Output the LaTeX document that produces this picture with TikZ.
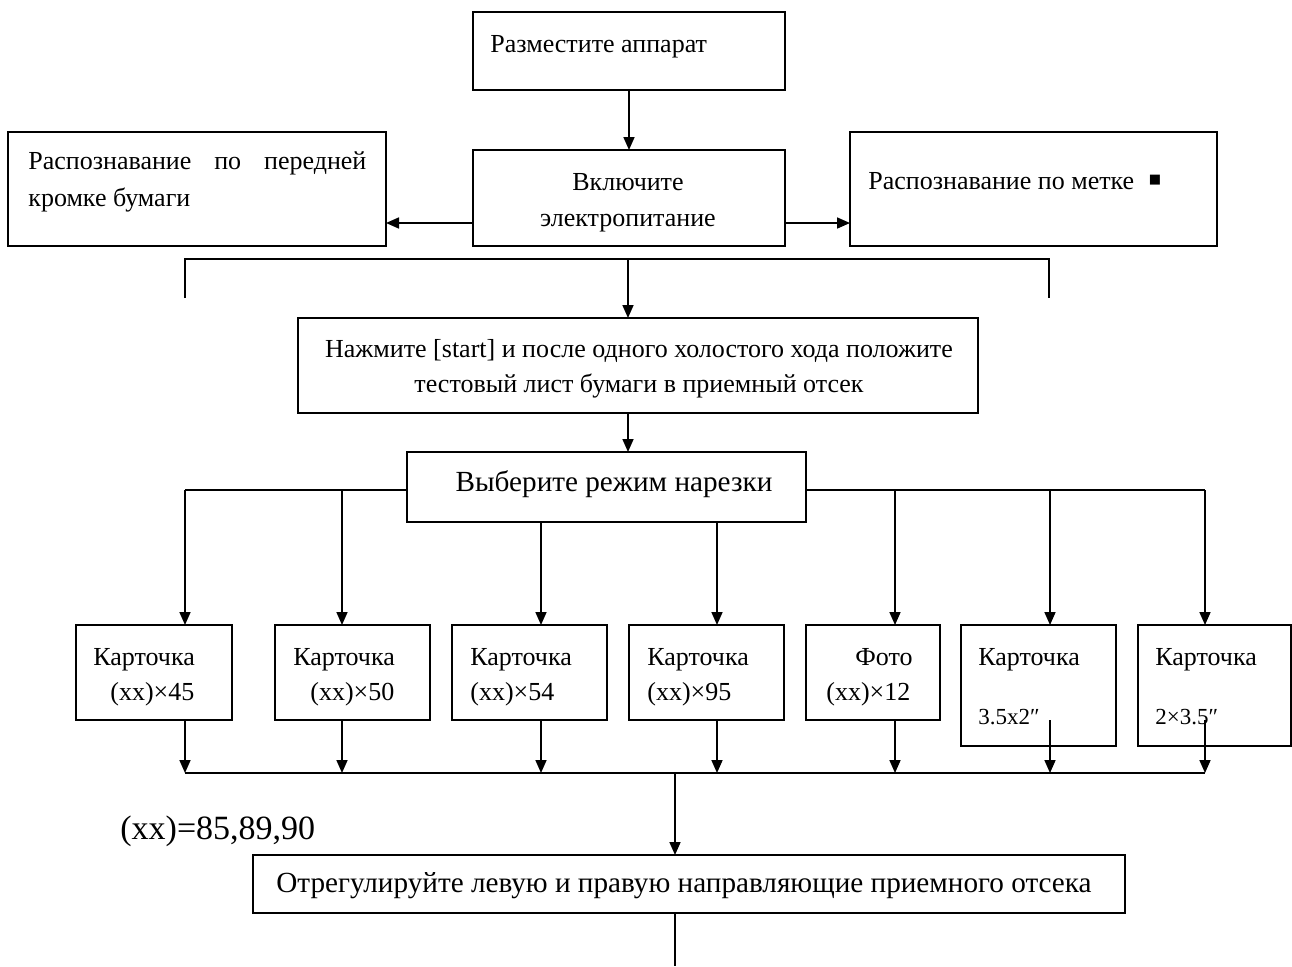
\documentclass[tikz,border=0pt]{standalone}
\usepackage{fontspec}
\setmainfont{Liberation Serif}
\newfontfamily\symf{DejaVu Sans}
\usetikzlibrary{arrows.meta,fit}
\newcommand{\mkbox}[5]{%
  \coordinate (#1-nw) at (#2,#3);
  \coordinate (#1-se) at (#4,#5);
  \node[box, fit=(#1-nw)(#1-se)] (#1) {};}
\begin{document}
\begin{tikzpicture}[x=0.5pt,y=-0.5pt,
  box/.style={draw, line width=1pt, inner sep=0pt, outer sep=0pt},
  arr/.style={-{Triangle[length=6.5pt,width=5.5pt]}, line width=0.85pt},
  ln/.style={line width=0.85pt},
  txt/.style={inner sep=0pt, font=\fontsize{13}{15}\selectfont, anchor=base west},
  ctxt/.style={txt, anchor=base},
  btxt/.style={ctxt, font=\fontsize{14.6}{16}\selectfont},
  stxt/.style={txt, font=\fontsize{11.5}{13}\selectfont}]
\useasboundingbox (0,0) rectangle (1292,966);

% boxes
\mkbox{b1}{473}{12}{785}{90}
\mkbox{b2}{473}{150}{785}{246}
\mkbox{bl}{8}{132}{386}{246}
\mkbox{br}{850}{132}{1217}{246}
\mkbox{b3}{298}{318}{978}{413}
\mkbox{b4}{407}{452}{806}{522}
\mkbox{c1}{76}{625}{232}{720}
\mkbox{c2}{275}{625}{430}{720}
\mkbox{c3}{452}{625}{607}{720}
\mkbox{c4}{629}{625}{784}{720}
\mkbox{c5}{806}{625}{940}{720}
\mkbox{c6}{961}{625}{1116}{746}
\mkbox{c7}{1138}{625}{1291}{746}
\mkbox{b8}{253}{855}{1125}{913}

% texts
\node[txt] (t1) at (490,52) {Разместите аппарат};
\node[ctxt] (t2a) at (628,190) {Включите};
\node[ctxt] (t2b) at (628,226) {электропитание};
\node[txt] (tla) at (28,169) {\hbox to 169pt{Распознавание\hfill по\hfill передней}};
\node[txt] (tlb) at (28,206) {кромке бумаги};
\node[txt] (tr) at (868,189) {Распознавание по метке};
\node[inner sep=0pt, font=\symf\fontsize{6.5}{8}\selectfont] (sq) at (1155,180) {■};
\node[ctxt] (t3a) at (639,357) {Нажмите [start] и после одного холостого хода положите};
\node[ctxt] (t3b) at (639,392) {тестовый лист бумаги в приемный отсек};
\node[btxt] (t4) at (614,491) {Выберите режим нарезки};

\node[txt] (c1a) at (93,665) {Карточка};
\node[txt] (c1b) at (110,700) {(xx)×45};
\node[txt] (c2a) at (293,665) {Карточка};
\node[txt] (c2b) at (310,700) {(xx)×50};
\node[txt] (c3a) at (470,665) {Карточка};
\node[txt] (c3b) at (470,700) {(xx)×54};
\node[txt] (c4a) at (647,665) {Карточка};
\node[txt] (c4b) at (647,700) {(xx)×95};
\node[txt] (c5a) at (855,665) {Фото};
\node[txt] (c5b) at (826,700) {(xx)×12};
\node[txt] (c6a) at (978,665) {Карточка};
\node[stxt] (c6b) at (978,724) {3.5x2″};
\node[txt] (c7a) at (1155,665) {Карточка};
\node[stxt] (c7b) at (1155,724) {2×3.5″};

\node[txt, font=\fontsize{17}{19}\selectfont] (note) at (120,839) {(xx)=85,89,90};
\node[btxt] (t8) at (684,892) {Отрегулируйте левую и правую направляющие приемного отсека};

% connectors
\draw[arr] (b1.south) -- (b2.north);
\coordinate (yLR) at (0,223);
\draw[arr] (b2.west |- yLR) -- (bl.east |- yLR);
\draw[arr] (b2.east |- yLR) -- (br.west |- yLR);

\coordinate (k1) at (185,298);
\coordinate (k2) at (185,259);
\coordinate (k3) at (1049,259);
\coordinate (k4) at (1049,298);
\coordinate (km) at (628,259);
\draw[ln] (k1) -- (k2) -- (k3) -- (k4);
\draw[arr] (km) -- (b3.north -| km);
\draw[arr] (b3.south -| km) -- (b4.north -| km);

\coordinate (h1) at (185,490);
\coordinate (h2) at (342,490);
\coordinate (h6) at (895,490);
\coordinate (h7) at (1050,490);
\coordinate (h8) at (1205,490);
\coordinate (x3) at (541,0);
\coordinate (x4) at (717,0);
\draw[ln] (b4.west |- h1) -- (h1);
\draw[ln] (b4.east |- h8) -- (h8);
\draw[arr] (h1) -- (c1.north -| h1);
\draw[arr] (h2) -- (c2.north -| h2);
\draw[arr] (b4.south -| x3) -- (c3.north -| x3);
\draw[arr] (b4.south -| x4) -- (c4.north -| x4);
\draw[arr] (h6) -- (c5.north -| h6);
\draw[arr] (h7) -- (c6.north -| h7);
\draw[arr] (h8) -- (c7.north -| h8);

\coordinate (m1) at (185,773);
\coordinate (m2) at (342,773);
\coordinate (m3) at (541,773);
\coordinate (m4) at (717,773);
\coordinate (m5) at (895,773);
\coordinate (m6) at (1050,773);
\coordinate (m7) at (1205,773);
\coordinate (s6) at (1050,720);
\coordinate (s7) at (1205,720);
\draw[arr] (c1.south -| m1) -- (m1);
\draw[arr] (c2.south -| m2) -- (m2);
\draw[arr] (c3.south -| m3) -- (m3);
\draw[arr] (c4.south -| m4) -- (m4);
\draw[arr] (c5.south -| m5) -- (m5);
\draw[arr] (s6) -- (m6);
\draw[arr] (s7) -- (m7);
\draw[ln] (m1) -- (m7);

\coordinate (mj) at (675,773);
\coordinate (bot) at (675,966);
\draw[arr] (mj) -- (b8.north -| mj);
\draw[ln] (b8.south -| mj) -- (bot);
\end{tikzpicture}
\end{document}
